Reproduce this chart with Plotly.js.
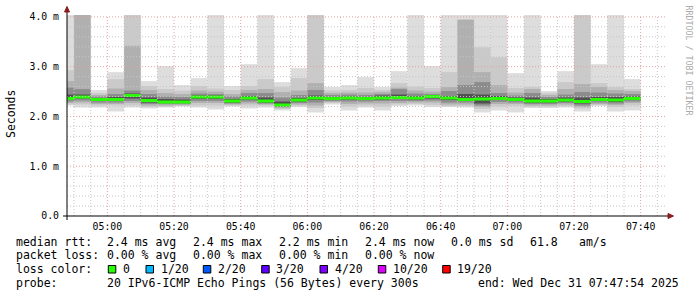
<!DOCTYPE html>
<html>
<head>
<meta charset="utf-8">
<script src="https://cdn.plot.ly/plotly-3.0.1.min.js"></script>
<style>html,body{margin:0;padding:0;background:#fff;}#chart{width:697px;height:297px;}</style>
</head>
<body>
<div id="chart"></div>
<script>
// ---- DATA (values in milliseconds) ----
const day = '2025-12-31';
const binStart = ['04:45','04:50','04:55','05:00','05:05','05:10','05:15','05:20','05:25','05:30',
  '05:35','05:40','05:45','05:50','05:55','06:00','06:05','06:10','06:15','06:20',
  '06:25','06:30','06:35','06:40','06:45','06:50','06:55','07:00','07:05','07:10',
  '07:15','07:20','07:25','07:30','07:35'];
// smoke layers (outer -> inner): top & bottom of each band
const l1Hi = [4.1,4.1,2.53,2.89,4.1,2.71,3.01,2.63,2.77,4.1,2.61,3.05,4.1,2.69,2.97,4.1,2.59,2.63,2.79,2.59,2.91,4.1,3.01,4.1,4.1,4.1,4.1,2.87,4.1,2.51,2.91,4.1,3.05,4.1,2.75];
const l1Lo = [2.22,2.18,2.18,2.10,2.18,2.16,2.18,2.20,2.18,2.14,2.20,2.16,2.18,2.12,2.19,2.08,2.24,2.12,2.18,2.12,2.21,2.22,2.19,2.19,2.18,2.08,2.12,2.08,2.17,2.17,2.18,2.10,2.21,2.10,2.12];
const l2Hi = [2.93,4.1,2.47,2.75,4.1,2.61,2.55,2.52,2.61,2.56,2.53,2.61,2.75,2.59,2.77,4.1,2.52,2.53,2.57,2.53,2.67,2.60,2.57,2.89,3.96,3.39,3.19,2.57,2.59,2.47,2.69,4.1,2.67,2.59,2.55];
const l2Lo = [2.24,2.24,2.22,2.22,2.22,2.19,2.20,2.21,2.22,2.22,2.22,2.22,2.22,2.15,2.22,2.17,2.27,2.20,2.22,2.20,2.24,2.25,2.23,2.21,2.21,2.15,2.20,2.21,2.20,2.20,2.21,2.16,2.23,2.19,2.22];
const l3Hi = [2.71,4.1,2.43,2.56,3.42,2.53,2.47,2.45,2.52,2.50,2.45,2.53,2.55,2.49,2.52,2.67,2.47,2.48,2.48,2.49,2.58,2.52,2.50,2.59,3.94,2.89,2.63,2.48,2.55,2.43,2.55,2.65,2.59,2.53,2.51];
const l3Lo = [2.27,2.28,2.25,2.25,2.27,2.22,2.22,2.23,2.27,2.27,2.24,2.26,2.24,2.17,2.24,2.22,2.29,2.25,2.26,2.26,2.27,2.28,2.28,2.24,2.24,2.19,2.25,2.25,2.22,2.22,2.24,2.19,2.25,2.23,2.27];
const l4Hi = [2.58,2.55,2.40,2.45,2.52,2.45,2.40,2.39,2.46,2.45,2.40,2.47,2.47,2.38,2.43,2.53,2.43,2.44,2.43,2.45,2.55,2.46,2.45,2.51,2.63,2.69,2.47,2.42,2.47,2.39,2.44,2.49,2.48,2.46,2.45];
const l4Lo = [2.30,2.32,2.28,2.28,2.31,2.25,2.25,2.25,2.31,2.31,2.26,2.30,2.26,2.19,2.27,2.28,2.31,2.30,2.30,2.31,2.31,2.31,2.32,2.28,2.28,2.22,2.29,2.28,2.25,2.25,2.27,2.22,2.28,2.26,2.30];
const l5Hi = [2.44,2.44,2.37,2.39,2.46,2.38,2.35,2.34,2.42,2.42,2.35,2.41,2.38,2.30,2.37,2.42,2.39,2.40,2.39,2.42,2.44,2.41,2.43,2.41,2.45,2.44,2.41,2.38,2.38,2.35,2.38,2.38,2.39,2.39,2.40];
const l5Lo = [2.34,2.36,2.31,2.31,2.36,2.28,2.27,2.27,2.35,2.35,2.28,2.34,2.28,2.21,2.30,2.33,2.33,2.34,2.33,2.34,2.35,2.34,2.36,2.33,2.31,2.26,2.33,2.31,2.28,2.28,2.30,2.26,2.31,2.29,2.33];
const median = [2.36,2.39,2.34,2.34,2.42,2.32,2.29,2.29,2.39,2.39,2.31,2.37,2.31,2.23,2.33,2.37,2.36,2.37,2.36,2.37,2.38,2.37,2.40,2.37,2.34,2.35,2.36,2.34,2.31,2.31,2.33,2.30,2.34,2.33,2.36];

const yTickVals = [0, 1, 2, 3, 4];
const yTickText = ['0.0', '1.0 m', '2.0 m', '3.0 m', '4.0 m'];

const statsRtt = ['2.4 ms avg', '2.4 ms max', '2.2 ms min', '2.4 ms now', '0.0 ms sd', '61.8', 'am/s'];
const statsLoss = ['0.00 % avg', '0.00 % max', '0.00 % min', '0.00 % now'];
const lossLabels = ['0', '1/20', '2/20', '3/20', '4/20', '10/20', '19/20'];
const lossColors = ['#26ff00', '#00b8ff', '#0059ff', '#5e00ff', '#7e00ff', '#dd00ff', '#ff0000'];
const probeText = '20 IPv6-ICMP Echo Pings (56 Bytes) every 300s';
const endText = 'end: Wed Dec 31 07:47:54 2025';

// ---- STYLE ----
const MONO = 'DejaVu Sans Mono';
const BIN_MS = 300000;
const MEDIAN_THICK = 0.06;
const X_START = day + ' 04:47:54', X_END = day + ' 07:47:54';
const Y_MAX = 4.038;
const xs = binStart.map(t => day + ' ' + t + ':00');

const layers = [
  [l1Lo, l1Hi, '#dddddd'],
  [l2Lo, l2Hi, '#cacaca'],
  [l3Lo, l3Hi, '#b0b0b0'],
  [l4Lo, l4Hi, '#8c8c8c'],
  [l5Lo, l5Hi, '#505050']
];
const traces = layers.map(([lo, hi, col]) => ({
  type: 'bar', x: xs, base: lo, y: hi.map((h, i) => h - lo[i]),
  width: BIN_MS, offset: 0, marker: {color: col, line: {width: 0}},
  hoverinfo: 'skip', showlegend: false
}));
traces.push({
  type: 'bar', x: xs, base: median.map(m => m - MEDIAN_THICK / 2),
  y: median.map(() => MEDIAN_THICK), width: BIN_MS, offset: 0,
  marker: {color: lossColors[0], line: {width: 0}}, hoverinfo: 'skip', showlegend: false
});

// pixel -> paper helpers (plot area: x 67..667, y 15..216)
const PL = 67, PW = 600, PB = 216, PH = 201;
const px = v => (v - PL) / PW;
const py = v => (PB - v) / PH;

const annotations = [];
function txt(x, y, s, opts) {
  annotations.push(Object.assign({
    xref: 'paper', yref: 'paper', x: px(x), y: py(y), text: s, showarrow: false,
    xanchor: 'left', yanchor: 'middle', borderpad: 0, borderwidth: 0,
    font: {family: MONO, size: 11.5, color: '#000'}
  }, opts || {}));
}
const rowY = [241.7, 255, 269.3, 282.7];
txt(16, rowY[0], 'median rtt:');
[107.3, 193.3, 279.3, 365, 451, 530, 579.3].forEach((x, i) => txt(x, rowY[0], statsRtt[i]));
txt(16, rowY[1], 'packet loss:');
[107.3, 193.3, 279.3, 365].forEach((x, i) => txt(x, rowY[1], statsLoss[i]));
txt(16, rowY[2], 'loss color:');
const boxX = [108.3, 146, 203.3, 261.7, 320, 378.3, 442.7];
const shapes = [];

// grid drawn above the smoke, as rrdtool does
const MAJOR = '#e3a2a2', MINOR = '#c6c6c6', DASH = '1px,2px';
const gridStart = Date.UTC(2025, 11, 31, 4, 50, 0);
const gridEnd = Date.UTC(2025, 11, 31, 7, 47, 54);
for (let t = gridStart; t <= gridEnd; t += BIN_MS) {
  const d = new Date(t);
  const s = d.toISOString().replace('T', ' ').slice(0, 19);
  const major = d.getUTCMinutes() % 20 === 0;
  shapes.push({type: 'line', xref: 'x', yref: 'paper', x0: s, x1: s, y0: 0, y1: 1, layer: 'above',
    line: {color: major ? MAJOR : MINOR, width: 1, dash: DASH}});
}
for (let k = 1; k * 0.2 <= Y_MAX; k++) {
  const v = k * 0.2;
  shapes.push({type: 'line', xref: 'paper', yref: 'y', x0: 0, x1: 1, y0: v, y1: v, layer: 'above',
    line: {color: k % 5 === 0 ? MAJOR : MINOR, width: 1, dash: DASH}});
}

boxX.forEach((bx, i) => {
  shapes.push({type: 'rect', xref: 'paper', yref: 'paper', x0: px(bx), x1: px(bx + 7.5),
    y0: py(265.5), y1: py(273), fillcolor: lossColors[i], line: {color: '#000', width: 1}, layer: 'above'});
  txt(bx + 14.5, rowY[2], lossLabels[i]);
});
txt(16, rowY[3], 'probe:');
txt(107.3, rowY[3], probeText);
txt(478.3, rowY[3], endText);
// y title
txt(11, 114, 'Seconds', {xanchor: 'center', textangle: -90, font: {family: MONO, size: 11.5, color: '#000'}});
// watermark
txt(688.5, 60, 'RRDTOOL / TOBI OETIKER', {xanchor: 'center', textangle: 90, font: {family: MONO, size: 8.3, color: '#aaaaaa'}});

// axes lines and arrows
const AX = '#000000', ARROW = '#8b1a1a';
shapes.push({type: 'line', xref: 'paper', yref: 'paper', x0: px(63), x1: px(668), y0: 0, y1: 0, line: {color: AX, width: 1}, layer: 'above'});
shapes.push({type: 'line', xref: 'paper', yref: 'paper', x0: 0, x1: 0, y0: py(220), y1: py(12), line: {color: AX, width: 1}, layer: 'above'});
shapes.push({type: 'path', xref: 'paper', yref: 'paper', layer: 'above',
  path: `M ${px(64.5)},${py(12)} L ${px(69.5)},${py(12)} L ${px(67)},${py(6.5)} Z`,
  fillcolor: ARROW, line: {color: ARROW, width: 1}});
shapes.push({type: 'path', xref: 'paper', yref: 'paper', layer: 'above',
  path: `M ${px(668)},${py(213.5)} L ${px(668)},${py(218.5)} L ${px(673.5)},${py(216)} Z`,
  fillcolor: ARROW, line: {color: ARROW, width: 1}});

const layout = {
  width: 697, height: 297,
  margin: {l: 67, r: 30, t: 15, b: 81, pad: 0},
  paper_bgcolor: '#ffffff', plot_bgcolor: '#ffffff',
  barmode: 'overlay', showlegend: false, hovermode: false,
  xaxis: {
    type: 'date', range: [X_START, X_END],
    tick0: day + ' 05:00:00', dtick: 1200000, tickformat: '%H:%M',
    showgrid: false, ticks: '', ticklabelstandoff: 3, showline: false, zeroline: false, fixedrange: true,
    tickfont: {family: MONO, size: 9.8, color: '#000'}
  },
  yaxis: {
    range: [0, Y_MAX], tickmode: 'array', tickvals: yTickVals, ticktext: yTickText,
    showgrid: false, ticks: 'outside', ticklen: 5, tickcolor: 'rgba(0,0,0,0)',
    showline: false, zeroline: false, fixedrange: true,
    tickfont: {family: MONO, size: 9.8, color: '#000'}
  },
  shapes: shapes,
  annotations: annotations
};
Plotly.newPlot('chart', traces, layout, {displayModeBar: false, staticPlot: true});
</script>
</body>
</html>
